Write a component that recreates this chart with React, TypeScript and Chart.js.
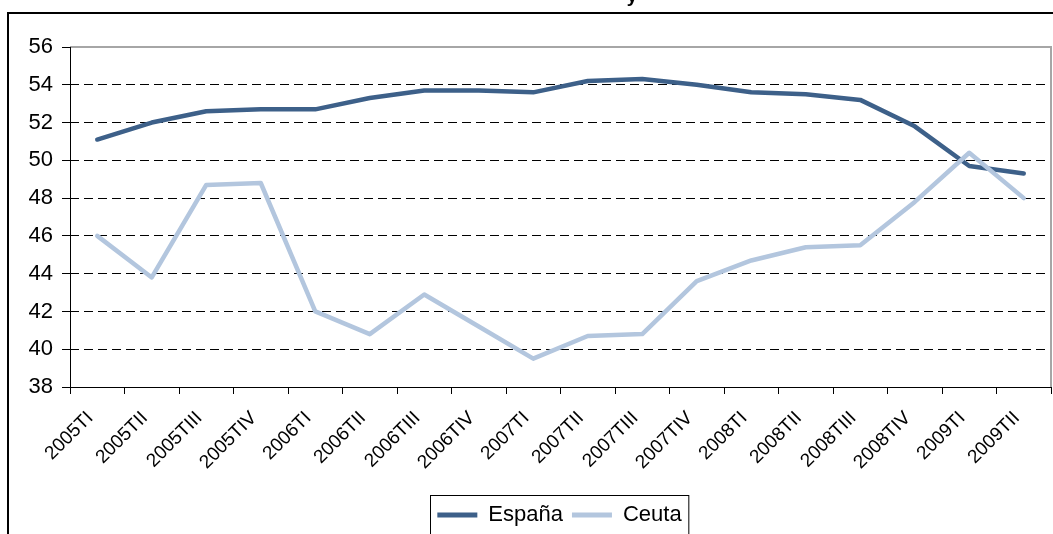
import React, { useEffect, useRef } from "react";
import { Chart, registerables } from "chart.js";

Chart.register(...registerables);

const categories = [
  "2005TI", "2005TII", "2005TIII", "2005TIV",
  "2006TI", "2006TII", "2006TIII", "2006TIV",
  "2007TI", "2007TII", "2007TIII", "2007TIV",
  "2008TI", "2008TII", "2008TIII", "2008TIV",
  "2009TI", "2009TII",
];
const espana = [51.1, 52.0, 52.6, 52.7, 52.7, 53.3, 53.7, 53.7, 53.6, 54.2, 54.3, 54.0, 53.6, 53.5, 53.2, 51.8, 49.7, 49.3];
const ceuta = [46.0, 43.8, 48.7, 48.8, 42.0, 40.8, 42.9, 41.2, 39.5, 40.7, 40.8, 43.6, 44.7, 45.4, 45.5, 47.8, 50.4, 48.0];
const yTicks = [38, 40, 42, 44, 46, 48, 50, 52, 54, 56];
const titleFragment = "y";

const FONT = "'Liberation Sans', Arial, Helvetica, sans-serif";

const LEGEND_DX = 34;
const LEGEND_DY = 2;

const decorPlugin = {
  id: "decor",
  afterUpdate(chart: any) {
    const lg = chart.legend;
    if (!lg) return;
    lg.left += LEGEND_DX;
    lg.right += LEGEND_DX;
    lg.top += LEGEND_DY;
    lg.bottom += LEGEND_DY;
    (lg.legendHitBoxes || []).forEach((h: any) => {
      h.left += LEGEND_DX;
      h.top += LEGEND_DY;
    });
  },
  beforeDraw(chart: any) {
    const ctx = chart.ctx;
    ctx.save();
    ctx.fillStyle = "#ffffff";
    ctx.fillRect(0, 0, chart.width, chart.height);
    ctx.restore();
  },
  afterDraw(chart: any) {
    const ctx = chart.ctx;
    const a = chart.chartArea;
    ctx.save();
    // outer chart border
    ctx.strokeStyle = "#000000";
    ctx.lineWidth = 2;
    ctx.strokeRect(8, 13, chart.width + 20, chart.height + 20);
    // plot frame (top & right)
    ctx.strokeStyle = "#a6a6a6";
    ctx.lineWidth = 2;
    ctx.beginPath();
    ctx.moveTo(a.left, a.top);
    ctx.lineTo(a.right, a.top);
    ctx.lineTo(a.right, a.bottom);
    ctx.stroke();
    // axes lines
    ctx.strokeStyle = "#000000";
    ctx.lineWidth = 1;
    ctx.beginPath();
    ctx.moveTo(Math.round(a.left) + 0.5, a.top);
    ctx.lineTo(Math.round(a.left) + 0.5, a.bottom + 1);
    ctx.moveTo(a.left, Math.round(a.bottom) + 0.5);
    ctx.lineTo(a.right, Math.round(a.bottom) + 0.5);
    ctx.stroke();
    // legend box
    const lg = chart.legend;
    if (lg && lg.legendHitBoxes && lg.legendHitBoxes.length) {
      const hb = lg.legendHitBoxes;
      const l = hb[0].left - 7;
      const r = hb[hb.length - 1].left + hb[hb.length - 1].width + 7;
      const t = lg.top;
      ctx.strokeStyle = "#000000";
      ctx.lineWidth = 1;
      ctx.strokeRect(Math.round(l) + 0.5, Math.round(t) + 0.5, r - l, chart.height);
    }
    // title fragment (cut off at top)
    ctx.fillStyle = "#000000";
    ctx.font = "bold 19px " + FONT;
    ctx.textAlign = "center";
    ctx.textBaseline = "alphabetic";
    ctx.fillText(titleFragment, 632, 2);
    ctx.restore();
  },
};

export default function App() {
  const ref = useRef<HTMLCanvasElement | null>(null);
  useEffect(() => {
    if (!ref.current) return;
    Chart.defaults.font.family = FONT;
    const chart = new Chart(ref.current, {
      type: "line",
      data: {
        labels: categories,
        datasets: [
          {
            label: "España",
            data: espana,
            borderColor: "#3d6089",
            backgroundColor: "#3d6089",
            borderWidth: 4.5,
            pointRadius: 0,
            tension: 0,
            borderCapStyle: "round",
            borderJoinStyle: "round",
            order: 2,
          },
          {
            label: "Ceuta",
            data: ceuta,
            borderColor: "#b3c6de",
            backgroundColor: "#b3c6de",
            borderWidth: 4.5,
            pointRadius: 0,
            tension: 0,
            borderCapStyle: "round",
            borderJoinStyle: "round",
            order: 1,
          },
        ],
      },
      options: {
        animation: false,
        responsive: false,
        devicePixelRatio: 1,
        layout: { padding: { top: 47, right: 2, left: 0, bottom: 0 } },
        plugins: {
          title: { display: false },
          tooltip: { enabled: false },
          legend: {
            display: true,
            position: "bottom",
            labels: {
              boxWidth: 40,
              boxHeight: 5,
              padding: 9,
              color: "#000000",
              font: { size: 22, family: FONT },
              generateLabels: (c: any) =>
                c.data.datasets.map((d: any, i: number) => ({
                  text: d.label,
                  fillStyle: d.borderColor,
                  strokeStyle: d.borderColor,
                  lineWidth: 0,
                  hidden: false,
                  datasetIndex: i,
                })),
            },
          },
        },
        scales: {
          x: {
            type: "category",
            offset: true,
            grid: {
              offset: true,
              drawOnChartArea: false,
              drawTicks: true,
              tickLength: 7,
              tickColor: "#000000",
              tickWidth: 1,
              tickBorderDash: [1, 0],
            },
            border: { display: false },
            ticks: {
              autoSkip: false,
              maxRotation: 45,
              minRotation: 45,
              padding: 13,
              labelOffset: -7,
              color: "#000000",
              font: { size: 19, family: FONT },
            },
            afterFit: (s: any) => {
              s.height = 106;
            },
          },
          y: {
            type: "linear",
            min: 38,
            max: 56,
            afterBuildTicks: (s: any) => {
              s.ticks = yTicks.map((v) => ({ value: v }));
            },
            grid: {
              color: (ctx: any) =>
                ctx.tick && (ctx.tick.value === 38 || ctx.tick.value === 56) ? "rgba(0,0,0,0)" : "#000000",
              lineWidth: 1,
              drawTicks: true,
              tickLength: 8,
              tickColor: "#000000",
              tickWidth: 1,
              tickBorderDash: [1, 0],
            },
            border: { display: false, dash: [9, 5] },
            ticks: {
              padding: 9,
              color: "#000000",
              font: { size: 22, family: FONT },
            },
            afterFit: (s: any) => {
              s.width = 70;
            },
          },
        },
      },
      plugins: [decorPlugin],
    } as any);
    return () => chart.destroy();
  }, []);
  return (
    <div style={{ position: "absolute", left: 0, top: 0, width: 1053, height: 534, overflow: "hidden" }}>
      <canvas ref={ref} width={1053} height={534} style={{ display: "block" }} />
    </div>
  );
}
